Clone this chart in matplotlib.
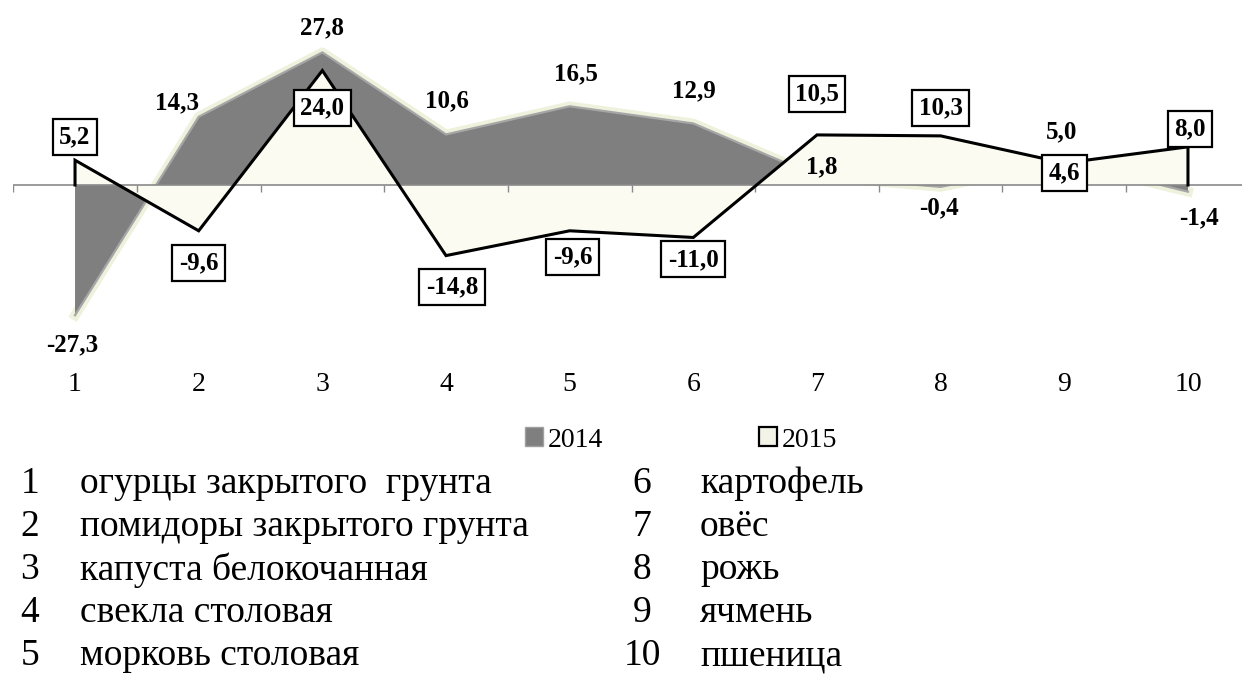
import numpy as np
import matplotlib.pyplot as plt
from matplotlib.patches import Patch

plt.rcParams['font.family'] = ['Liberation Serif', 'DejaVu Serif']

cats = [1, 2, 3, 4, 5, 6, 7, 8, 9, 10]
v2014 = [-27.3, 14.3, 27.8, 10.6, 16.5, 12.9, 1.8, -0.4, 5.0, -1.4]
v2015 = [5.2, -9.6, 24.0, -14.8, -9.6, -11.0, 10.5, 10.3, 4.6, 8.0]
series = ['2014', '2015']
names = ['огурцы закрытого  грунта', 'помидоры закрытого грунта',
         'капуста белокочанная', 'свекла столовая', 'морковь столовая',
         'картофель', 'овёс', 'рожь', 'ячмень', 'пшеница']

# label offsets in pixels (dx, dy up)
off2014 = [(-3, -30), (-22, 14), (0, 25), (1, 34), (6, 32), (1, 33),
           (5, 10), (-2, -21), (-3, 29), (11, -26)]
off2015 = [(0, 23), (0, -32), (0, -37), (6, -31), (3, -26), (0, -22),
           (0, 41), (0, 28), (0, -10), (2, 18)]

W, H = 1242, 675
fig = plt.figure(figsize=(W / 100, H / 100), dpi=100)
ax = fig.add_axes([13.2 / W, 1 - 365 / H, 1236.6 / W, 365 / H])
ax.set_xlim(0.5, 10.5)
ax.set_ylim(-(365 - 185) / 4.77, 185 / 4.77)

x = np.array(cats)
dark = '#7f7f7f'
cream = '#fbfbf2'

# 2014: pale glow + dark fill + light edge
ax.plot(x, v2014, color='#eef1dc', lw=7, zorder=1.8, solid_joinstyle='round')
ax.fill_between(x, v2014, 0, facecolor=dark, edgecolor='none', zorder=2)
ax.plot(x, v2014, color='#a6a6a6', lw=1.6, zorder=2.1)

# 2015 drawn over 2014
ax.fill_between(x, v2015, 0, facecolor=cream, edgecolor='none', zorder=3)

ax.axhline(0, color='#8a8a8a', lw=1.2, zorder=4)
ax.vlines(np.arange(len(cats)) + 0.5, -1.5, 0, color='#8a8a8a', lw=1, zorder=4)

# outline of the 2015 area (top edge plus both ends)
ax.plot(np.r_[x[0], x, x[-1]], np.r_[0, v2015, 0], color='black', lw=2.2,
        zorder=5, solid_joinstyle='miter')

fmt = lambda v: f'{v:.1f}'.replace('.', ',')
for xi, v, (dx, dy) in zip(x, v2014, off2014):
    ax.annotate(fmt(v), (xi, v), xytext=(dx * 0.72, dy * 0.72),
                textcoords='offset points', ha='center', va='center',
                fontsize=18, fontweight='bold', zorder=6)
for xi, v, (dx, dy) in zip(x, v2015, off2015):
    ax.annotate(fmt(v), (xi, v), xytext=(dx * 0.72, dy * 0.72),
                textcoords='offset points', ha='center', va='center',
                fontsize=18, fontweight='bold', zorder=7,
                bbox=dict(boxstyle='square,pad=0.26', fc='white', ec='black',
                          lw=1.6))

ax.set_xticks(x)
ax.set_xticklabels([str(c) for c in cats], fontsize=20)
ax.tick_params(axis='x', length=0, pad=5)
ax.set_yticks([])
for s in ax.spines.values():
    s.set_visible(False)

handles = [Patch(facecolor=dark, edgecolor='#a0a0a0', lw=1),
           Patch(facecolor='#f3f3e8', edgecolor='black', lw=1.6)]
fig.legend(handles, series, loc='center', bbox_to_anchor=(681 / W, 1 - 440 / H),
           ncol=2, frameon=False, fontsize=20, handlelength=0.65,
           handleheight=0.65, handletextpad=0.18, columnspacing=5.6)

# category key below the chart
for i, name in enumerate(names):
    col, row = divmod(i, 5)
    yy = 1 - (484 + row * 43) / H
    xn = [30, 642][col]
    xt = [80, 700][col]
    fig.text(xn / W, yy, str(cats[i]), ha='center', va='center', fontsize=27)
    fig.text(xt / W, yy, name, ha='left', va='center', fontsize=27)

fig.savefig('out.png', dpi=100, facecolor='white')
